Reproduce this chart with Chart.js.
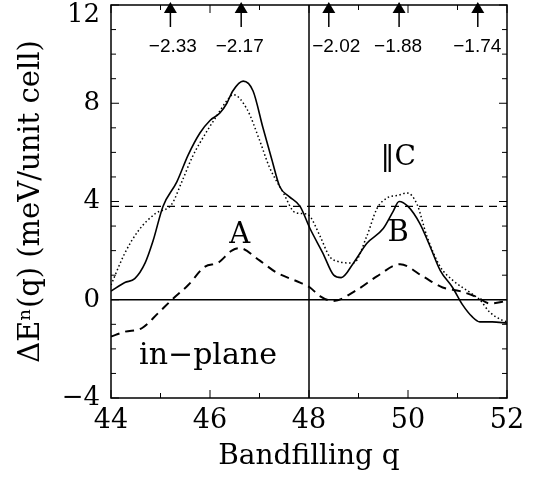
<!DOCTYPE html>
<html>
<head>
<meta charset="utf-8">
<script src="https://cdn.jsdelivr.net/npm/chart.js@4.4.0/dist/chart.umd.min.js"></script>
<style>
  html, body { margin: 0; padding: 0; background: #fff; }
</style>
</head>
<body>
<canvas id="chart" width="535" height="478"></canvas>
<script>
// bandfilling q and energy values
const qSolid = [44.0, 44.28, 44.48, 44.69, 44.85, 45.05, 45.33, 45.56, 45.8, 46.0, 46.2, 46.34, 46.46, 46.67, 46.87, 47.07, 47.25, 47.41, 47.6, 47.82, 48.02, 48.28, 48.5, 48.65, 48.9, 49.17, 49.5, 49.7, 49.82, 50.0, 50.24, 50.44, 50.65, 50.9, 51.1, 51.3, 51.45, 51.7, 52.0]
const eSolid = [0.35, 0.7, 0.86, 1.5, 2.4, 3.8, 4.8, 5.9, 6.8, 7.3, 7.6, 8.0, 8.5, 8.9, 8.5, 7.0, 5.7, 4.6, 4.2, 3.8, 2.9, 1.9, 1.0, 0.9, 1.5, 2.3, 2.9, 3.6, 4.0, 3.8, 3.1, 2.2, 1.2, 0.5, -0.2, -0.7, -0.9, -0.9, -0.95]

const qDotted = [44.0, 44.28, 44.55, 44.89, 45.23, 45.43, 45.64, 45.8, 46.14, 46.34, 46.47, 46.75, 47.0, 47.2, 47.47, 47.72, 47.92, 48.02, 48.22, 48.42, 48.6, 48.77, 48.9, 49.17, 49.37, 49.58, 49.8, 49.98, 50.18, 50.38, 50.65, 50.9, 51.25, 51.45, 51.65, 51.92, 52.0]
const eDotted = [0.6, 1.9, 2.8, 3.5, 3.9, 4.8, 5.8, 6.4, 7.5, 8.1, 8.35, 7.75, 6.5, 5.4, 4.4, 3.55, 3.5, 3.4, 2.6, 1.75, 1.55, 1.5, 1.5, 2.6, 3.7, 4.15, 4.25, 4.35, 3.9, 2.6, 1.35, 0.8, 0.3, 0.0, -0.5, -0.85, -0.9]

// in-plane curve
const qDashed = [44.0, 44.28, 44.63, 44.95, 45.23, 45.56, 45.9, 46.16, 46.44, 46.6, 47.0, 47.35, 47.82, 48.02, 48.22, 48.48, 48.97, 49.37, 49.84, 50.3, 50.7, 51.05, 51.4, 51.65, 52.0]
const eDashed = [-1.5, -1.3, -1.15, -0.55, 0.0, 0.6, 1.35, 1.5, 2.0, 2.1, 1.6, 1.1, 0.7, 0.5, 0.15, -0.05, 0.4, 0.95, 1.45, 0.95, 0.5, 0.35, 0.1, -0.15, -0.05]

const avgLevel = 3.8
const qDivide = 48

// arrows at the top with their chemical potentials
const arrowQ = [45.2, 46.63, 48.4, 49.82, 51.41]
const arrowLabelQ = [45.25, 46.6, 48.55, 49.8, 51.4]
const arrowLabels = ['\u22122.33', '\u22122.17', '\u22122.02', '\u22121.88', '\u22121.74']

// text labels inside the plot
const noteText = ['A', 'B', '\u2016C', 'in\u2212plane']
const noteQ = [46.6, 49.8, 49.8, 45.96]
const noteE = [2.6, 2.7, 5.8, -2.3]
const noteSize = [29, 29, 28, 30]

const xTickLabels = [44, 46, 48, 50, 52]
const yTickLabels = [-4, 0, 4, 8, 12]

function pts(xs, ys) {
  return xs.map((v, i) => ({ x: v, y: ys[i] }))
}

const serif = 'DejaVu Serif'

function line(ctx, x1, y1, x2, y2) {
  ctx.beginPath()
  ctx.moveTo(x1, y1)
  ctx.lineTo(x2, y2)
  ctx.stroke()
}

const extras = {
  id: 'extras',
  afterDatasetsDraw(chart) {
    const { ctx, chartArea: a, scales: { x, y } } = chart
    ctx.save()
    ctx.strokeStyle = '#000'
    ctx.fillStyle = '#000'

    // frame
    ctx.lineWidth = 1.5
    ctx.strokeRect(a.left, a.top, a.right - a.left, a.bottom - a.top)

    // inward ticks on all four sides
    ctx.lineWidth = 1
    for (let q = 44; q <= 52; q++) {
      const px = x.getPixelForValue(q)
      const len = q % 2 === 0 ? 8 : 5
      line(ctx, px, a.bottom, px, a.bottom - len)
      line(ctx, px, a.top, px, a.top + len)
    }
    for (let e = -4; e <= 12; e++) {
      const py = y.getPixelForValue(e)
      const len = e % 4 === 0 ? 8 : 5
      line(ctx, a.left, py, a.left + len, py)
      line(ctx, a.right, py, a.right - len, py)
    }

    // arrows
    ctx.lineWidth = 1.5
    arrowQ.forEach((q) => {
      const px = x.getPixelForValue(q)
      ctx.beginPath()
      ctx.moveTo(px, a.top - 3)
      ctx.lineTo(px - 6.5, a.top + 8)
      ctx.lineTo(px + 6.5, a.top + 8)
      ctx.closePath()
      ctx.fill()
      line(ctx, px, a.top + 7, px, a.top + 22)
    })
    ctx.font = '19px "Liberation Sans"'
    ctx.textAlign = 'center'
    ctx.textBaseline = 'middle'
    arrowLabels.forEach((t, i) => {
      ctx.fillText(t, x.getPixelForValue(arrowLabelQ[i]), a.top + 42)
    })

    // notes
    noteText.forEach((t, i) => {
      ctx.font = noteSize[i] + 'px "' + serif + '"'
      ctx.fillText(t, x.getPixelForValue(noteQ[i]), y.getPixelForValue(noteE[i]))
    })
    ctx.restore()
  }
}

new Chart(document.getElementById('chart'), {
  type: 'scatter',
  data: {
    datasets: [
      { data: pts(qSolid, eSolid), borderWidth: 1.6 },
      { data: pts(qDotted, eDotted), borderWidth: 1.5, borderDash: [1.5, 2.5] },
      { data: pts(qDashed, eDashed), borderWidth: 2, borderDash: [9, 6] },
      { data: pts([44, 52], [avgLevel, avgLevel]), borderWidth: 1.2, borderDash: [8, 6] },
      { data: pts([44, 52], [0, 0]), borderWidth: 1.5 },
      { data: pts([qDivide, qDivide], [-4, 12]), borderWidth: 1.5 }
    ].map(d => Object.assign({
      showLine: true,
      pointRadius: 0,
      borderColor: '#000',
      fill: false,
      cubicInterpolationMode: 'monotone'
    }, d))
  },
  options: {
    responsive: false,
    animation: false,
    layout: { padding: { top: 5, right: 28, left: 0, bottom: 0 } },
    plugins: { legend: { display: false }, tooltip: { enabled: false } },
    scales: {
      x: {
        type: 'linear',
        min: 44,
        max: 52,
        afterBuildTicks: (s) => { s.ticks = xTickLabels.map(v => ({ value: v })) },
        afterFit: (s) => {
          s.height = 80
          s.paddingLeft = 0
          s.paddingRight = 0
        },
        grid: { display: false, drawTicks: false },
        border: { display: false },
        ticks: { color: '#000', padding: 7, font: { family: serif, size: 27 } },
        title: {
          display: true,
          text: 'Bandfilling q',
          color: '#000',
          padding: { top: 0, bottom: 4 },
          font: { family: serif, size: 28 }
        }
      },
      y: {
        type: 'linear',
        min: -4,
        max: 12,
        afterBuildTicks: (s) => { s.ticks = yTickLabels.map(v => ({ value: v })) },
        afterFit: (s) => {
          s.width = 111
          s.paddingTop = 0
          s.paddingBottom = 0
        },
        grid: { display: false, drawTicks: false },
        border: { display: false },
        ticks: {
          color: '#000',
          padding: 11,
          font: { family: serif, size: 26, lineHeight: '20px' },
          // the top label sits just below the frame corner
          callback: (v) => v === 12 ? ['', '12'] : (v < 0 ? '\u2212' + Math.abs(v) : '' + v)
        },
        title: {
          display: true,
          text: '\u0394E\u207f(q) (meV/unit cell)',
          color: '#000',
          padding: { top: 14, bottom: 0 },
          font: { family: serif, size: 29 }
        }
      }
    }
  },
  plugins: [extras]
})
</script>
</body>
</html>
